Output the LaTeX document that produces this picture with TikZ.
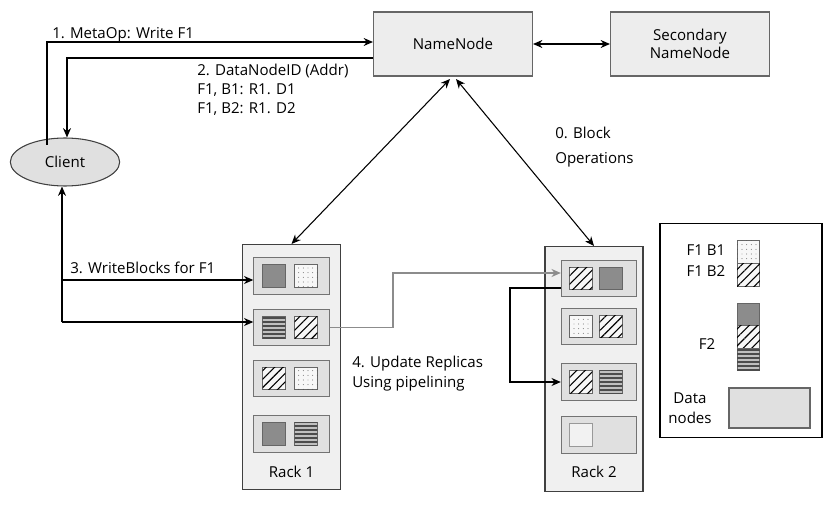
\documentclass[tikz,border=0pt]{standalone}
\usepackage{fontspec}
\setmainfont{Open Sans}
\usetikzlibrary{shapes.geometric,arrows.meta,patterns.meta}
\begin{document}
\begin{tikzpicture}[x=0.75pt,y=-0.75pt,
  font=\fontsize{11.3}{13}\selectfont,
  arr/.style={line width=0.8pt,-{Stealth[length=7pt,width=6pt]}},
  darr/.style={line width=0.8pt,{Stealth[length=7pt,width=6pt]}-{Stealth[length=7pt,width=6pt]}},
  nn/.style={draw=black!60,fill=black!7,line width=0.8pt,minimum width=119.25pt,minimum height=48pt,align=center},
  rack/.style={draw=black!75,fill=black!6,line width=0.8pt,minimum width=73.5pt,minimum height=183.75pt},
  dn/.style={draw=black!55,fill=black!12,line width=0.8pt,minimum width=56.5pt,minimum height=27.5pt},
  blk/.style={draw=black!60,line width=0.7pt,minimum size=17pt,inner sep=0pt},
  dark/.style={blk,fill=black!45},
  dots/.style={blk,fill=black!3,postaction={pattern={Dots[distance=3.5pt,radius=0.35pt]},pattern color=black!70}},
  hatch/.style={blk,fill=black!3,postaction={pattern={Lines[angle=45,distance=4.5pt,line width=0.8pt]}}},
  stripe/.style={blk,fill=black!25,postaction={pattern={Lines[angle=0,distance=3pt,line width=0.8pt]},pattern color=black!70}},
  empty/.style={blk,fill=black!5,draw=black!40},
  lbl/.style={inner sep=0pt,anchor=west}]
\useasboundingbox (0,0) rectangle (831,506);
% name nodes
\node[nn] (nn) at (453,44) {NameNode};
\node[nn] (snn) at (690,44) {Secondary\\NameNode};
\draw[darr] (nn) -- (snn);
% client
\node[ellipse,draw=black!75,fill=black!12,line width=0.8pt,minimum width=82pt,minimum height=36pt] (client) at (65,162) {Client};
\coordinate (c1) at (47,145);
\coordinate (c1t) at (47,42);
\draw[arr] (c1) -- (c1t) -- (nn.west |- c1t);
\coordinate (c2) at (67,58);
\draw[arr] (nn.west |- c2) -- (c2) -- (client.north -| c2);
\node[lbl] (t1) at (52,35) {1. MetaOp: Write F1};
\node[lbl,align=left,anchor=north west] (t2) at (197,64) {2. DataNodeID (Addr)\\[1pt]F1, B1: R1. D1\\[1pt]F1, B2: R1. D2};
% racks
\node[rack] (r1) at (291.5,367) {};
\node[rack] (r2) at (594,369) {};
\node (r1l) at (291.5,472) {Rack 1};
\node (r2l) at (594,472) {Rack 2};
\draw[darr] (450,79) -- (r1.north);
\draw[darr] (456,79) -- (r2.north);
\node[lbl,align=left] (t0) at (555,147) {0. Block\\[6pt]Operations};
% rack 1 data nodes
\node[dn] (a1) at (291.5,276) {};
\node[dn] (a2) at (291.5,327.5) {};
\node[dn] (a3) at (291.5,378.5) {};
\node[dn] (a4) at (291.5,434) {};
\node[dark] at (274,276) {}; \node[dots] at (306,276) {};
\node[stripe] at (274,327.5) {}; \node[hatch] at (306,327.5) {};
\node[hatch] at (274,378.5) {}; \node[dots] at (306,378.5) {};
\node[dark] at (274,434) {}; \node[stripe] at (306,434) {};
% rack 2 data nodes
\node[dn] (b1) at (599,278.5) {};
\node[dn] (b2) at (599,326.5) {};
\node[dn] (b3) at (599,382) {};
\node[dn] (b4) at (599,435) {};
\node[hatch] at (581,278.5) {}; \node[dark] at (611,278.5) {};
\node[dots] at (581,326.5) {}; \node[hatch] at (611,326.5) {};
\node[hatch] at (581,382) {}; \node[stripe] at (611,382) {};
\node[empty] at (581,435) {};
% client writes
\coordinate (w0) at (62,322);
\draw[arr] (w0) -- (client.south -| w0);
\draw[arr] (62,280) -- (a1.west |- 0,280);
\draw[arr] (w0) -- (a2.west |- w0);
\node[lbl] (t3) at (70,268) {3. WriteBlocks for F1};
% pipeline
\draw[arr,draw=black!45] (a2.east) -- (393,327.5) -- (393,273) -- (b1.west |- 0,273);
\draw[arr] (b1.west |- 0,288) -- (510,288) -- (510,382) -- (b3.west);
\node[lbl,align=left] (t4) at (352,374) {4. Update Replicas\\[2pt]Using pipelining};
% legend
\node[draw=black,line width=1pt,minimum width=121.5pt,minimum height=160.5pt] (leg) at (741,330.5) {};
\node[dots] (l1) at (748.5,252) {};
\node[hatch] (l2) at (748.5,275) {};
\node[dark] (l3) at (748.5,314.5) {};
\node[hatch] (l4) at (748.5,337) {};
\node[stripe] (l5) at (748.5,359.5) {};
\node[anchor=east] at (730,250) {F1 B1};
\node[anchor=east] at (730,271) {F1 B2};
\node[anchor=east] at (720,344) {F2};
\node[align=center] at (690,408) {Data\\[2pt]nodes};
\node[draw=black!60,fill=black!12,line width=0.8pt,minimum width=60.75pt,minimum height=30pt] (ld) at (769.5,408) {};
\end{tikzpicture}
\end{document}
